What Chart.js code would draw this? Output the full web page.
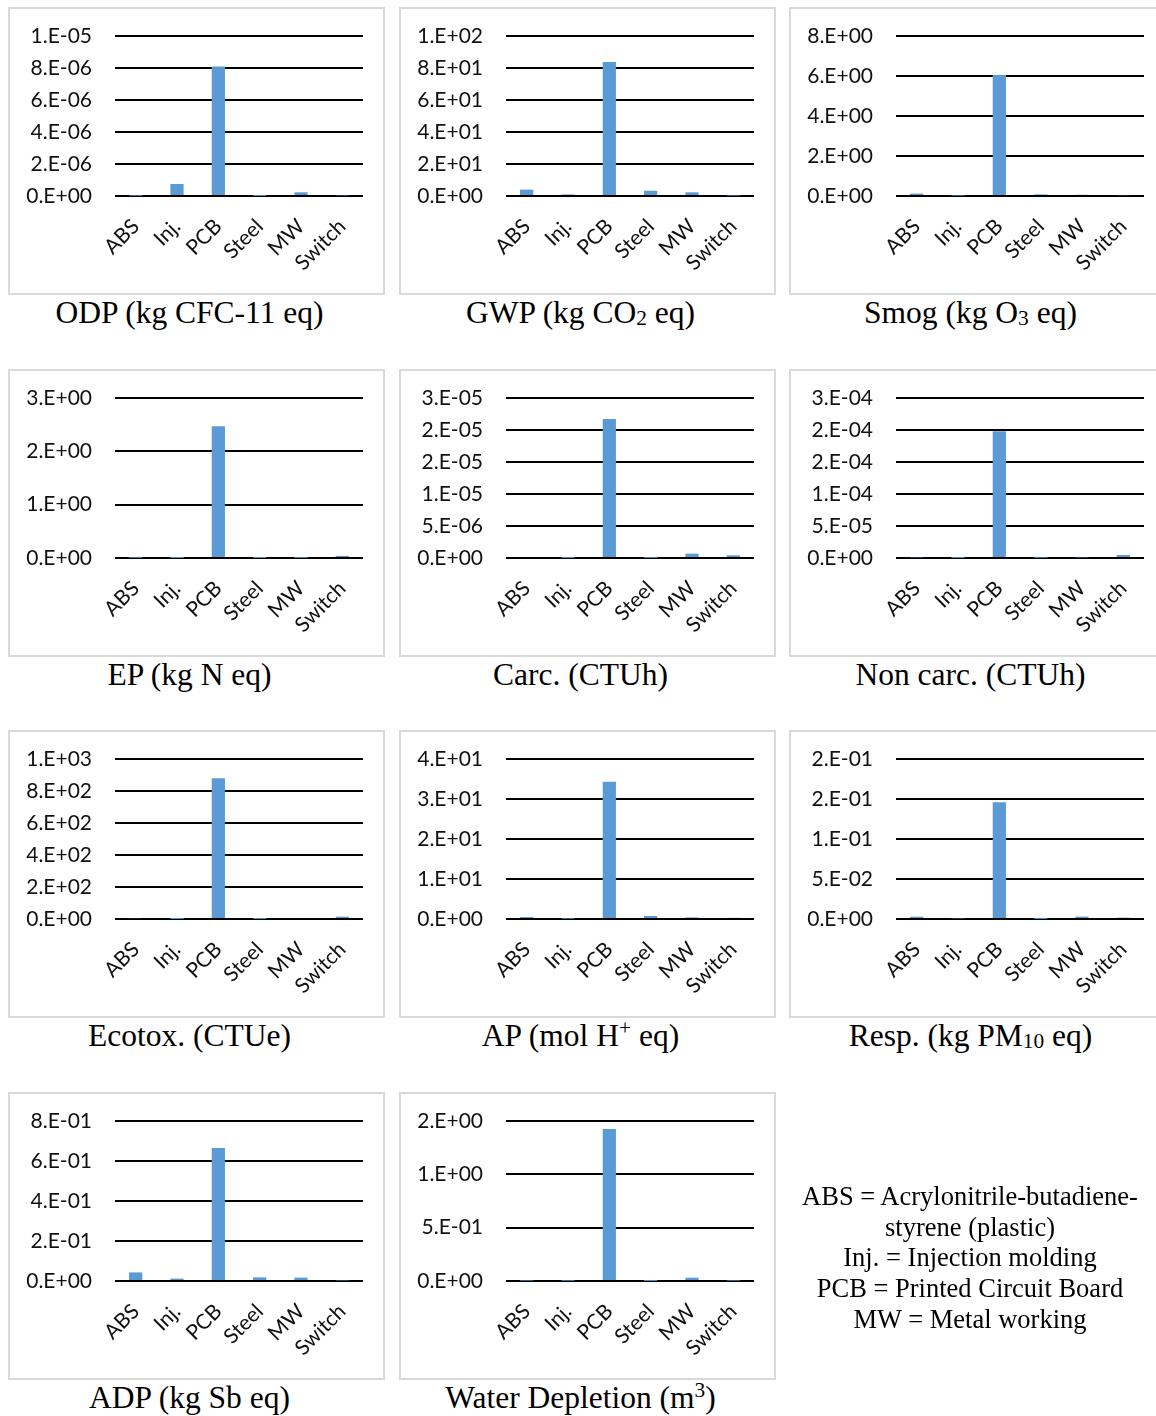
<!DOCTYPE html>
<html>
<head>
<meta charset="utf-8">
<script src="https://cdn.jsdelivr.net/npm/chart.js@4/dist/chart.umd.min.js"></script>
<style>
  html, body { margin: 0; padding: 0; background: #fff; }
  body { position: relative; width: 1156px; height: 1416px; overflow: hidden; }
  .box { position: absolute; width: 373px; height: 284px; border: 2px solid #d9d9d9; background: #fff; }
  .box canvas { position: absolute; left: 0; top: 0; }
  .title { position: absolute; width: 377px; text-align: center; font-family: "Liberation Serif", "Times New Roman", serif;
           font-size: 31.5px; line-height: 36px; color: #000; white-space: nowrap; }
  .title sub { font-size: 0.68em; vertical-align: -0.1em; line-height: 0; }
  .title sup { font-size: 0.68em; vertical-align: 0.5em; line-height: 0; }
  .note { position: absolute; left: 770px; top: 1181px; width: 400px; text-align: center;
          font-family: "Liberation Serif", "Times New Roman", serif; font-size: 26.5px; line-height: 30.7px; color: #000; }
</style>
</head>
<body>
<script>
const categories = ['ABS', 'Inj.', 'PCB', 'Steel', 'MW', 'Switch'];

// values, in category order
const odpValues = [2e-8, 7.5e-7, 8.1e-6, 1e-8, 2.3e-7, 4e-8];
const gwpValues = [4.0, 1.0, 83.8, 3.3, 2.3, 0.3];
const smogValues = [0.12, 0.02, 6.05, 0.08, 0.06, 0.04];
const epValues = [0.005, 0.001, 2.47, 0.002, 0.003, 0.04];
const carcValues = [1.5e-7, 2e-8, 2.17e-5, 3e-8, 6.8e-7, 4.2e-7];
const noncarcValues = [1e-6, 2e-7, 1.98e-4, 5e-7, 1e-6, 4.7e-6];
const ecotoxValues = [5, 0.5, 879, 0.5, 6, 15];
const apValues = [0.5, 0.1, 34.3, 0.75, 0.4, 0.3];
const respValues = [0.0029, 0.0008, 0.146, 0.0002, 0.003, 0.0017];
const adpValues = [0.043, 0.012, 0.665, 0.018, 0.017, 0.003];
const waterValues = [0.004, 0.003, 1.426, 0.001, 0.031, 0.004];

// y tick positions and their printed labels
const odpTicks = [0, 2e-6, 4e-6, 6e-6, 8e-6, 1e-5];
const odpTickLabels = ['0.E+00', '2.E-06', '4.E-06', '6.E-06', '8.E-06', '1.E-05'];
const gwpTicks = [0, 20, 40, 60, 80, 100];
const gwpTickLabels = ['0.E+00', '2.E+01', '4.E+01', '6.E+01', '8.E+01', '1.E+02'];
const smogTicks = [0, 2, 4, 6, 8];
const smogTickLabels = ['0.E+00', '2.E+00', '4.E+00', '6.E+00', '8.E+00'];
const epTicks = [0, 1, 2, 3];
const epTickLabels = ['0.E+00', '1.E+00', '2.E+00', '3.E+00'];
const carcTicks = [0, 5e-6, 1e-5, 1.5e-5, 2e-5, 2.5e-5];
const carcTickLabels = ['0.E+00', '5.E-06', '1.E-05', '2.E-05', '2.E-05', '3.E-05'];
const noncarcTicks = [0, 5e-5, 1e-4, 1.5e-4, 2e-4, 2.5e-4];
const noncarcTickLabels = ['0.E+00', '5.E-05', '1.E-04', '2.E-04', '2.E-04', '3.E-04'];
const ecotoxTicks = [0, 200, 400, 600, 800, 1000];
const ecotoxTickLabels = ['0.E+00', '2.E+02', '4.E+02', '6.E+02', '8.E+02', '1.E+03'];
const apTicks = [0, 10, 20, 30, 40];
const apTickLabels = ['0.E+00', '1.E+01', '2.E+01', '3.E+01', '4.E+01'];
const respTicks = [0, 0.05, 0.1, 0.15, 0.2];
const respTickLabels = ['0.E+00', '5.E-02', '1.E-01', '2.E-01', '2.E-01'];
const adpTicks = [0, 0.2, 0.4, 0.6, 0.8];
const adpTickLabels = ['0.E+00', '2.E-01', '4.E-01', '6.E-01', '8.E-01'];
const waterTicks = [0, 0.5, 1, 1.5];
const waterTickLabels = ['0.E+00', '5.E-01', '1.E+00', '2.E+00'];

const panels = [
    {title: 'ODP (kg CFC-11 eq)', values: odpValues, ticks: odpTicks, labels: odpTickLabels},
    {title: 'GWP (kg CO<sub>2</sub> eq)', values: gwpValues, ticks: gwpTicks, labels: gwpTickLabels},
    {title: 'Smog (kg O<sub>3</sub> eq)', values: smogValues, ticks: smogTicks, labels: smogTickLabels},
    {title: 'EP (kg N eq)', values: epValues, ticks: epTicks, labels: epTickLabels},
    {title: 'Carc. (CTUh)', values: carcValues, ticks: carcTicks, labels: carcTickLabels},
    {title: 'Non carc. (CTUh)', values: noncarcValues, ticks: noncarcTicks, labels: noncarcTickLabels},
    {title: 'Ecotox. (CTUe)', values: ecotoxValues, ticks: ecotoxTicks, labels: ecotoxTickLabels},
    {title: 'AP (mol H<sup>+</sup> eq)', values: apValues, ticks: apTicks, labels: apTickLabels},
    {title: 'Resp. (kg PM<sub>10</sub> eq)', values: respValues, ticks: respTicks, labels: respTickLabels},
    {title: 'ADP (kg Sb eq)', values: adpValues, ticks: adpTicks, labels: adpTickLabels},
    {title: 'Water Depletion (m<sup>3</sup>)', values: waterValues, ticks: waterTicks, labels: waterTickLabels}
];

const bar = '#5b9bd5';
const tickFont = {family: 'Lato', size: 21};

panels.forEach((p, i) => {
    const col = i % 3;
    const row = Math.floor(i / 3);
    const left = Math.round(8 + col * 390.5);
    const top = Math.round(7 + row * 361.7);

    const box = document.createElement('div');
    box.className = 'box';
    box.style.left = left + 'px';
    box.style.top = top + 'px';
    const canvas = document.createElement('canvas');
    canvas.width = 373;
    canvas.height = 284;
    box.appendChild(canvas);
    document.body.appendChild(box);

    const title = document.createElement('div');
    title.className = 'title';
    title.style.left = (left - 7) + 'px';
    title.style.top = (top + 288) + 'px';
    title.innerHTML = p.title;
    document.body.appendChild(title);

    new Chart(canvas, {
        type: 'bar',
        data: {
            labels: categories,
            datasets: [{
                data: p.values,
                backgroundColor: bar,
                borderWidth: 0,
                categoryPercentage: 1,
                barPercentage: 0.32
            }]
        },
        options: {
            responsive: false,
            animation: false,
            layout: {padding: {top: 27, right: 20, left: 0, bottom: 0}},
            plugins: {legend: {display: false}, tooltip: {enabled: false}},
            scales: {
                x: {
                    grid: {display: false},
                    border: {display: false},
                    ticks: {color: '#111', font: tickFont, minRotation: 45, maxRotation: 45, padding: 10},
                    afterFit: s => { s.height = 97; }
                },
                y: {
                    min: 0,
                    max: p.ticks[p.ticks.length - 1],
                    afterBuildTicks: s => { s.ticks = p.ticks.map(v => ({value: v})); },
                    grid: {color: '#000', lineWidth: 2, drawTicks: false},
                    border: {display: false},
                    ticks: {
                        color: '#111',
                        font: tickFont,
                        padding: 23,
                        callback: (v, idx) => p.labels[idx]
                    },
                    afterFit: s => {
                        s.width = 105;
                        // tick padding would otherwise push the plot top down
                        s.paddingTop = 0;
                        s.paddingBottom = 0;
                    }
                }
            }
        }
    });
});
</script>
<div class="note">ABS = Acrylonitrile-butadiene-<br>styrene (plastic)<br>Inj. = Injection molding<br>PCB = Printed Circuit Board<br>MW = Metal working</div>
</body>
</html>
